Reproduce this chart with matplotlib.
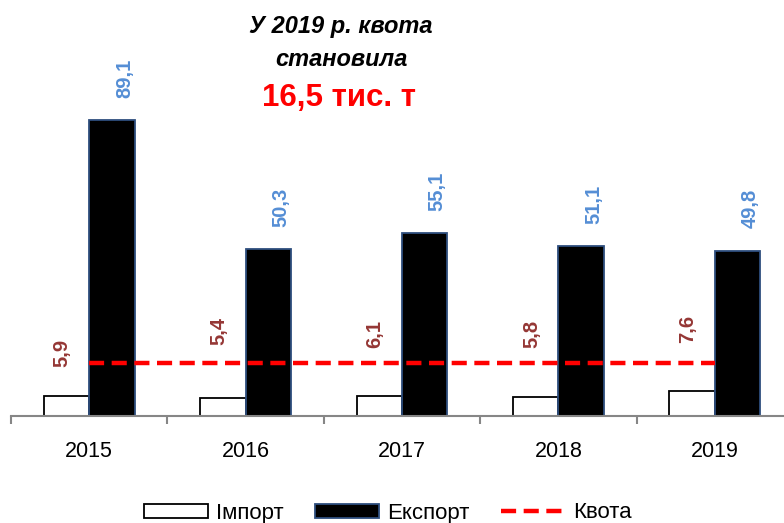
import matplotlib
matplotlib.use("Agg")
import matplotlib.pyplot as plt
from matplotlib.patches import Patch
from matplotlib.lines import Line2D
import numpy as np

plt.rcParams['font.family'] = ['Liberation Sans', 'DejaVu Sans']

years = ['2015', '2016', '2017', '2018', '2019']
imports = [5.9, 5.4, 6.1, 5.8, 7.6]
exports = [89.1, 50.3, 55.1, 51.1, 49.8]
quota = [16.0, 16.0, 16.0, 16.0, 16.0]
imp_label_y = [14.8, 21.4, 20.4, 20.4, 22.0]  # import labels are set by hand

imp_color = '#953735'
exp_color = '#558ED5'

fig = plt.figure(figsize=(7.84, 5.23), dpi=100)
ax = fig.add_axes([11 / 784, 107 / 523, 782 / 784, 416 / 523])

x = np.arange(len(years))
w = 0.29
ax.bar(x - w / 2, imports, w, color='white', edgecolor='black', linewidth=1.3, zorder=2)
ax.bar(x + w / 2, exports, w, color='black', edgecolor='#2E4E7E', linewidth=1.3, zorder=2)
ax.plot(x, quota, color='#FF0000', linestyle=(0, (3.4, 1.7)), linewidth=3.2, zorder=3)

for i in range(len(years)):
    ax.annotate(f"{exports[i]:.1f}".replace('.', ','), (x[i] + w / 2, exports[i]),
                xytext=(9, 16), textcoords='offset points', rotation=90,
                ha='center', va='bottom', color=exp_color, fontsize=14.5, fontweight='bold')
    ax.annotate(f"{imports[i]:.1f}".replace('.', ','), (x[i] - w / 2, imp_label_y[i]),
                xytext=(-3, 0), textcoords='offset points', rotation=90,
                ha='center', va='bottom', color=imp_color, fontsize=14.5, fontweight='bold')

ax.set_xlim(-0.5, 4.5)
ax.set_ylim(0, 125.2)
for s in ['top', 'right', 'left']:
    ax.spines[s].set_visible(False)
ax.spines['bottom'].set_color('#868686')
ax.spines['bottom'].set_linewidth(1.5)
ax.set_yticks([])
ax.set_xticks(np.arange(-0.5, 5, 1))
ax.set_xticklabels([])
ax.tick_params(axis='x', which='major', length=6, width=1.5, color='#868686', direction='out')
ax.set_xticks(x, minor=True)
ax.set_xticklabels(years, minor=True, fontsize=15.5)
ax.tick_params(axis='x', which='minor', length=0, pad=18)

fig.text(341 / 784, 1 - 27 / 523, 'У 2019 р. квота', ha='center', va='center',
         fontsize=17, fontweight='bold', fontstyle='italic')
fig.text(341 / 784, 1 - 60 / 523, 'становила', ha='center', va='center',
         fontsize=17, fontweight='bold', fontstyle='italic')
fig.text(339 / 784, 1 - 98 / 523, '16,5 тис. т', ha='center', va='center',
         fontsize=22.5, fontweight='bold', color='#FF0000')

handles = [Patch(facecolor='white', edgecolor='black', linewidth=1.3),
           Patch(facecolor='black', edgecolor='#2E4E7E', linewidth=1.3),
           Line2D([0], [0], color='#FF0000', linestyle=(0, (3.4, 1.7)), linewidth=3.2)]
fig.legend(handles, ['Імпорт', 'Експорт', 'Квота'], loc='center',
           bbox_to_anchor=(388 / 784, 10 / 523), ncol=3, frameon=False, fontsize=16,
           handlelength=2.85, handleheight=0.6, handletextpad=0.4, columnspacing=1.4,
           borderaxespad=0, borderpad=0.0)

fig.savefig('out.png', dpi=100)
